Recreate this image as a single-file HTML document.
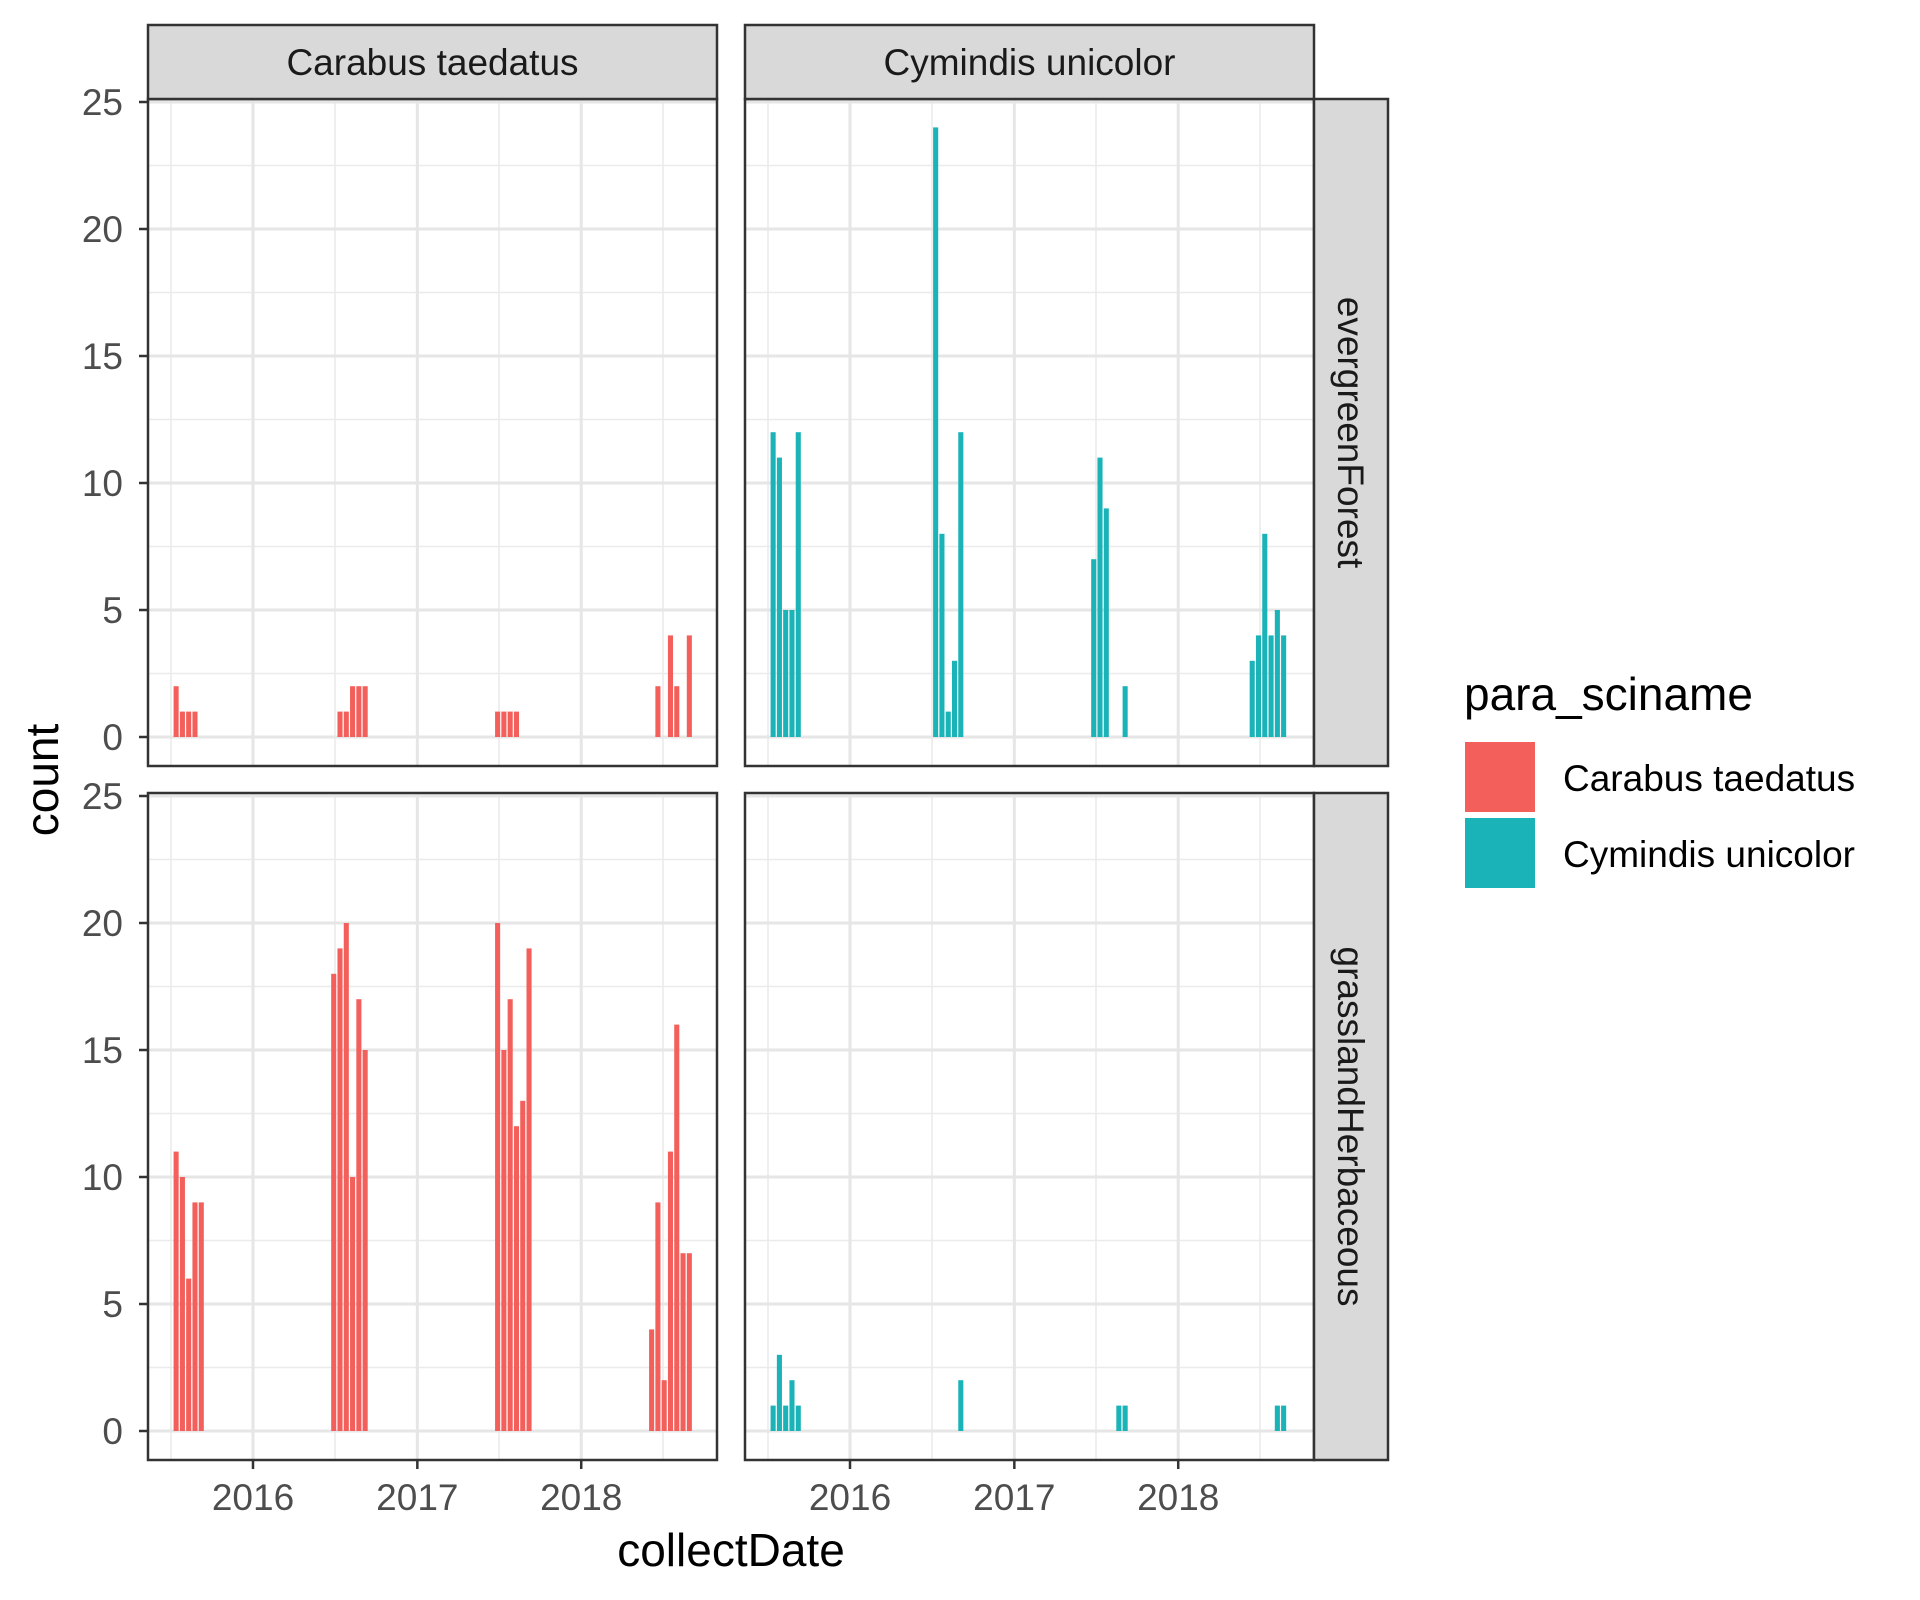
<!DOCTYPE html>
<html>
<head>
<meta charset="utf-8">
<style>
  html, body { margin: 0; padding: 0; background: #ffffff; }
  svg { display: block; font-family: "Liberation Sans", Arial, sans-serif; }
</style>
</head>
<body>
<svg id="chart" xmlns="http://www.w3.org/2000/svg" width="1920" height="1600" viewBox="0 0 1920 1600">
  <rect x="0" y="0" width="1920" height="1600" fill="#ffffff"/>
  <g id="panels"></g>
  <text x="731" y="1566" font-size="46" text-anchor="middle" fill="#000">collectDate</text>
  <text transform="translate(58,780) rotate(-90)" font-size="46" text-anchor="middle" fill="#000">count</text>
  <g>
    <text x="1464" y="710" font-size="46" fill="#000">para_sciname</text>
    <rect x="1465" y="742" width="70" height="70" fill="#F3605B"/>
    <rect x="1465" y="818" width="70" height="70" fill="#1AB3B8"/>
    <text x="1563" y="791" font-size="37" fill="#000">Carabus taedatus</text>
    <text x="1563" y="867" font-size="37" fill="#000">Cymindis unicolor</text>
  </g>
</svg>
<script>
// ---- data ----
const species = ["Carabus taedatus", "Cymindis unicolor"];
const habitats = ["evergreenForest", "grasslandHerbaceous"];
const yTicks = [0, 5, 10, 15, 20, 25];
const xTickLabels = ["2016", "2017", "2018"];

// Carabus taedatus, evergreenForest
const carForestDates = ["2015-07-07","2015-07-21","2015-08-04","2015-08-18",
  "2016-07-06","2016-07-20","2016-08-03","2016-08-17","2016-08-31",
  "2017-06-22","2017-07-06","2017-07-20","2017-08-03",
  "2018-06-14","2018-07-12","2018-07-26","2018-08-23"];
const carForestCounts = [2,1,1,1, 1,1,2,2,2, 1,1,1,1, 2,4,2,4];

// Carabus taedatus, grasslandHerbaceous
const carGrassDates = ["2015-07-07","2015-07-21","2015-08-04","2015-08-18","2015-09-01",
  "2016-06-22","2016-07-06","2016-07-20","2016-08-03","2016-08-17","2016-08-31",
  "2017-06-22","2017-07-06","2017-07-20","2017-08-03","2017-08-17","2017-08-31",
  "2018-05-31","2018-06-14","2018-06-28","2018-07-12","2018-07-26","2018-08-09","2018-08-23"];
const carGrassCounts = [11,10,6,9,9, 18,19,20,10,17,15, 20,15,17,12,13,19, 4,9,2,11,16,7,7];

// Cymindis unicolor, evergreenForest
const cymForestDates = ["2015-07-07","2015-07-21","2015-08-04","2015-08-18","2015-09-01",
  "2016-07-03","2016-07-17","2016-07-31","2016-08-14","2016-08-28",
  "2017-06-20","2017-07-04","2017-07-18","2017-08-29",
  "2018-06-08","2018-06-22","2018-07-06","2018-07-20","2018-08-03","2018-08-17"];
const cymForestCounts = [12,11,5,5,12, 24,8,1,3,12, 7,11,9,2, 3,4,8,4,5,4];

// Cymindis unicolor, grasslandHerbaceous
const cymGrassDates = ["2015-07-07","2015-07-21","2015-08-04","2015-08-18","2015-09-01",
  "2016-08-28","2017-08-15","2017-08-29","2018-08-03","2018-08-17"];
const cymGrassCounts = [1,3,1,2,1, 2, 1,1, 1,1];

// ---- layout ----
const NS = "http://www.w3.org/2000/svg";
const colors = ["#F3605B", "#1AB3B8"];
const panelX = [148, 745];
const panelW = 569;
const panelY = [99, 793];
const panelH = 667;
const zeroY = [737, 1431];
const unit = 25.4;
const binDays = 14;

function dayOffset(s) {
  const p = s.split("-").map(Number);
  return (Date.UTC(p[0], p[1]-1, p[2]) - Date.UTC(2016,0,1)) / 86400000;
}
function xScale(days, col) { return panelX[col] + 105 + days / 365.25 * 164; }
function yScale(v, row) { return zeroY[row] - v * unit; }

const root = document.getElementById("panels");
function mk(tag, attrs, parent) {
  const e = document.createElementNS(NS, tag);
  for (const k in attrs) e.setAttribute(k, attrs[k]);
  (parent || root).appendChild(e);
  return e;
}

const panelData = [
  [[carForestDates, carForestCounts], [cymForestDates, cymForestCounts]],
  [[carGrassDates, carGrassCounts], [cymGrassDates, cymGrassCounts]]
];

for (let r = 0; r < 2; r++) {
  for (let c = 0; c < 2; c++) {
    const g = mk("g", {});
    
    
    const px = panelX[c], py = panelY[r];
    const bg = mk("rect", {x: px, y: py, width: panelW, height: panelH, fill: "#fff"}, g);
    
    
    for (let v = 2.5; v < 26; v += 5) {
      const y = yScale(v, r);
      const l = mk("line", {x1: px, x2: px + panelW, y1: y, y2: y, stroke: "#EBEBEB", "stroke-width": 1.6}, g);
      
      
    }
    const minorYears = [2015.5, 2016.5, 2017.5, 2018.5];
    for (const yr of minorYears) {
      const x = xScale((yr - 2016) * 365.25, c);
      if (x < px || x > px + panelW) continue;
      const l = mk("line", {x1: x, x2: x, y1: py, y2: py + panelH, stroke: "#EBEBEB", "stroke-width": 1.6}, g);
      
      
    }
    for (const v of yTicks) {
      const y = yScale(v, r);
      const l = mk("line", {x1: px, x2: px + panelW, y1: y, y2: y, stroke: "#E6E6E6", "stroke-width": 3}, g);
      
      
    }
    for (const t of xTickLabels) {
      const x = xScale(dayOffset(t + "-01-01"), c);
      const l = mk("line", {x1: x, x2: x, y1: py, y2: py + panelH, stroke: "#E6E6E6", "stroke-width": 3}, g);
      
      
    }
    const dates = panelData[r][c][0], counts = panelData[r][c][1];
    for (let i = 0; i < dates.length; i++) {
      const d = dayOffset(dates[i]);
      const x0 = xScale(d, c), x1 = xScale(d + binDays, c);
      const y = yScale(counts[i], r);
      const b = mk("rect", {x: x0 + 0.5, y: y, width: Math.max(1, x1 - x0 - 1.2), height: zeroY[r] - y, fill: colors[c]}, g);
      
      
    }
    const bd = mk("rect", {x: px, y: py, width: panelW, height: panelH, fill: "none", stroke: "#333333", "stroke-width": 2.5}, g);
    
    

    if (c === 0) {
      for (const v of yTicks) {
        const y = yScale(v, r);
        const t = mk("line", {x1: px - 9, x2: px, y1: y, y2: y, stroke: "#333333", "stroke-width": 2.5}, g);
        
        
        const lb = mk("text", {x: px - 25, y: y + 13, "font-size": 37, "text-anchor": "end", fill: "#4D4D4D"}, g);
        lb.textContent = String(v);
        
        
      }
    }
    if (r === 1) {
      for (const tl of xTickLabels) {
        const x = xScale(dayOffset(tl + "-01-01"), c);
        const t = mk("line", {x1: x, x2: x, y1: py + panelH, y2: py + panelH + 9, stroke: "#333333", "stroke-width": 2.5}, g);
        
        
        const lb = mk("text", {x: x, y: 1510, "font-size": 37, "text-anchor": "middle", fill: "#4D4D4D"}, g);
        lb.textContent = tl;
        
        
      }
    }
  }
}

for (let c = 0; c < 2; c++) {
  const s = mk("rect", {x: panelX[c], y: 25, width: panelW, height: 74, fill: "#D9D9D9", stroke: "#333333", "stroke-width": 2.5});
  
  
  const t = mk("text", {x: panelX[c] + panelW / 2, y: 75, "font-size": 37, "text-anchor": "middle", fill: "#1A1A1A"});
  t.textContent = species[c];
  
  
}
for (let r = 0; r < 2; r++) {
  const s = mk("rect", {x: 1314, y: panelY[r], width: 74, height: panelH, fill: "#D9D9D9", stroke: "#333333", "stroke-width": 2.5});
  
  
  const cy = panelY[r] + panelH / 2;
  const t = mk("text", {transform: "translate(1338," + cy + ") rotate(90)", "font-size": 37, "text-anchor": "middle", fill: "#1A1A1A"});
  t.textContent = habitats[r];
  
  
}
</script>
</body>
</html>
